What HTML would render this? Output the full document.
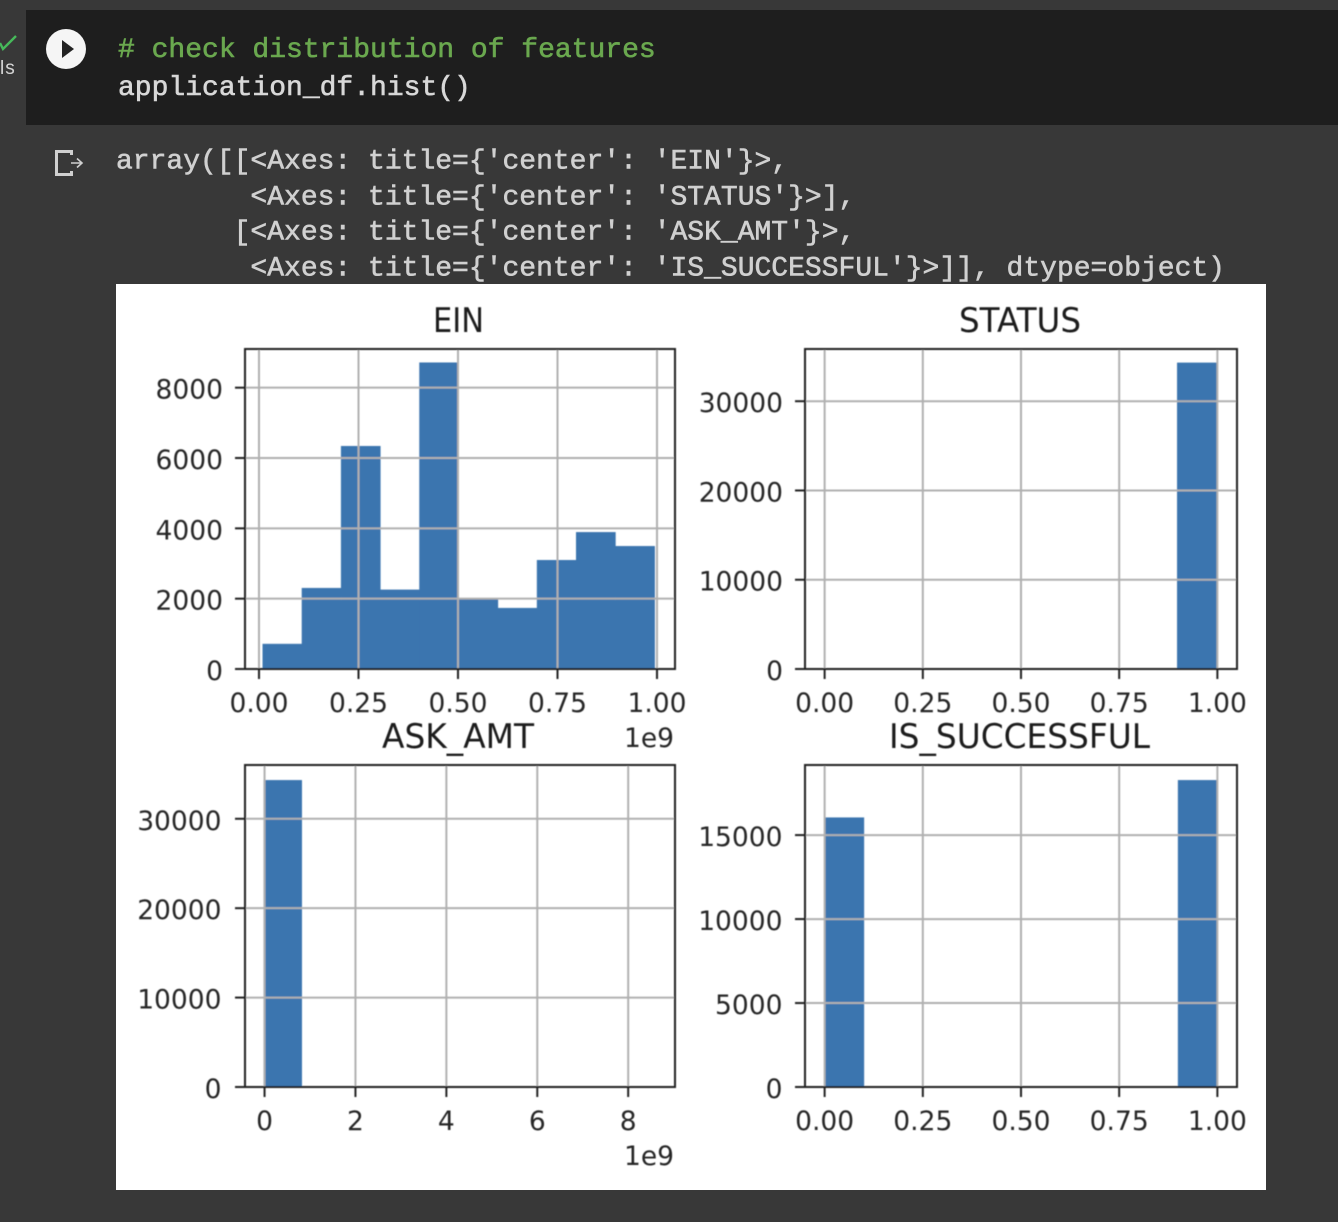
<!DOCTYPE html>
<html lang="en">
<head>
<meta charset="utf-8">
<title>Feature distribution notebook cell</title>
<style>
html,body{margin:0;padding:0;background:#383838;width:1338px;height:1222px;overflow:hidden}
svg{display:block}
.mono{font-family:"Liberation Mono",monospace;font-size:28px;white-space:pre;stroke-width:0.6px}
.tick{font-family:"DejaVu Sans",sans-serif;font-size:26.5px;fill:#262626}
.ttl{font-family:"DejaVu Sans",sans-serif;font-size:34px;fill:#1a1a1a}
</style>
</head>
<body>
<svg id="page" xmlns="http://www.w3.org/2000/svg" width="1338" height="1222" viewBox="0 0 1338 1222">
  <defs>
    <filter id="soft" x="-2%" y="-2%" width="104%" height="104%"><feGaussianBlur stdDeviation="0.55"/></filter>
    <filter id="softer" x="-2%" y="-5%" width="104%" height="110%"><feGaussianBlur stdDeviation="0.35"/></filter>
  </defs>
  <rect x="0" y="0" width="1338" height="1222" fill="#383838"/>
  <rect x="26" y="10" width="1312" height="115" fill="#1e1e1e"/>
  <path d="M0 43 L3 49 L16 36" fill="none" stroke="#46b95a" stroke-width="2.4"/>
  <text x="0" y="74" font-family="Liberation Sans, sans-serif" font-size="19" letter-spacing="1" fill="#d5d5d5">ls</text>
  <g>
    <circle cx="66" cy="49" r="20" fill="#f5f5f5"/>
    <path d="M62 40 L74 49 L62 58 Z" fill="#222"/>
  </g>
  <g filter="url(#softer)">
    <text class="mono" x="118" y="57" fill="#6aa84f" stroke="#6aa84f"># check distribution of features</text>
    <text class="mono" x="118" y="95" fill="#d8d8d8" stroke="#d8d8d8">application_df.hist()</text>
    <text class="mono" x="116" y="168.5" fill="#d0d0d0" stroke="#d0d0d0">array([[&lt;Axes: title={'center': 'EIN'}&gt;,</text>
    <text class="mono" x="116" y="204.5" fill="#d0d0d0" stroke="#d0d0d0">        &lt;Axes: title={'center': 'STATUS'}&gt;],</text>
    <text class="mono" x="116" y="239.5" fill="#d0d0d0" stroke="#d0d0d0">       [&lt;Axes: title={'center': 'ASK_AMT'}&gt;,</text>
    <text class="mono" x="116" y="275.5" fill="#d0d0d0" stroke="#d0d0d0">        &lt;Axes: title={'center': 'IS_SUCCESSFUL'}&gt;]], dtype=object)</text>
  </g>
  <g fill="none" stroke="#d0d0d0">
    <path d="M71.5 155 V151.5 H56.5 V174.5 H71.5 V171" stroke-width="3"/>
    <path d="M71 163 H82 M77 158.5 L82 163 L77 167.5" stroke-width="1.6"/>
  </g>
  <rect x="116" y="284" width="1150" height="906" fill="#ffffff"/>
  <g id="figure" filter="url(#soft)"></g>
</svg>
<script>
// Histogram counts (one per bin)
const einCounts = [709, 2298, 6335, 2250, 8710, 1985, 1730, 3092, 3886, 3489];
const statusCounts = [5, 0, 0, 0, 0, 0, 0, 0, 0, 34294];
const askAmtCounts = [34299, 0, 0, 0, 0, 0, 0, 0, 0, 0];
const successCounts = [16038, 0, 0, 0, 0, 0, 0, 0, 0, 18261];

// Value range covered by the bins of each feature
const einRange = [0.0095, 0.994];
const statusRange = [-0.02, 1];
const askAmtRange = [-0.018, 8.34];
const successRange = [0, 1];

// Tick values and printed labels
const unitXTicks = [0, 0.25, 0.5, 0.75, 1];
const unitXLabels = ['0.00', '0.25', '0.50', '0.75', '1.00'];
const askXTicks = [0, 2, 4, 6, 8];
const askXLabels = ['0', '2', '4', '6', '8'];
const einYTicks = [0, 2000, 4000, 6000, 8000];
const wideYTicks = [0, 10000, 20000, 30000];
const successYTicks = [0, 5000, 10000, 15000];

const svgNS = 'http://www.w3.org/2000/svg';
const figure = document.getElementById('figure');

const panels = [
  {key:'ein', title:'EIN', titleW:51, titleX:458.5, box:[245,349,675,669], xDom:[-0.0352,1.0452], yMax:9100, gap:22,
   counts:einCounts, range:einRange, xt:unitXTicks, xl:unitXLabels, yt:einYTicks, offset:'1e9'},
  {key:'status', title:'STATUS', titleW:122, titleX:1020, box:[805,349,1237,669], xDom:[-0.05,1.05], yMax:35850, gap:22,
   counts:statusCounts, range:statusRange, xt:unitXTicks, xl:unitXLabels, yt:wideYTicks, offset:''},
  {key:'ask-amt', title:'ASK_AMT', titleW:152, titleX:458, box:[245,765,675,1087], xDom:[-0.43,9.03], yMax:36014, gap:23.5,
   counts:askAmtCounts, range:askAmtRange, xt:askXTicks, xl:askXLabels, yt:wideYTicks, offset:'1e9'},
  {key:'is-successful', title:'IS_SUCCESSFUL', titleW:261, titleX:1019.5, box:[805,765,1237,1087], xDom:[-0.05,1.05], yMax:19174, gap:22.5,
   counts:successCounts, range:successRange, xt:unitXTicks, xl:unitXLabels, yt:successYTicks, offset:''}
];

function mk(tag, attrs, parent) {
  const el = document.createElementNS(svgNS, tag);
  for (const k in attrs) el.setAttribute(k, attrs[k]);
  parent.appendChild(el);
  return el;
}

panels.forEach(function (p) {
  const [l, t, r, b] = p.box;
  const xScale = v => l + (v - p.xDom[0]) / (p.xDom[1] - p.xDom[0]) * (r - l);
  const yScale = v => b - v / p.yMax * (b - t);

  const g = mk('g', {}, figure);
  
  

  // bars (thin same-colour stroke hides seams between neighbours)
  const binW = (p.range[1] - p.range[0]) / p.counts.length;
  p.counts.forEach(function (c, i) {
    const x0 = xScale(p.range[0] + i * binW);
    const x1 = xScale(p.range[0] + (i + 1) * binW);
    const bar = mk('rect', {x:x0, y:yScale(c), width:x1 - x0, height:b - yScale(c), fill:'#3b75af', stroke:c > 100 ? '#3b75af' : 'none', 'stroke-width':0.5}, g);
    
    
  });

  // vertical grid, ticks and labels
  p.xt.forEach(function (v, i) {
    const x = xScale(v);
    const grid = mk('line', {x1:x, x2:x, y1:t, y2:b, stroke:'#b0b0b0', 'stroke-width':2}, g);
    
    
    const tick = mk('line', {x1:x, x2:x, y1:b, y2:b + 10, stroke:'#222', 'stroke-width':2}, g);
    
    
    const lab = mk('text', {x:x, y:b + 43, 'text-anchor':'middle', 'class':'tick'}, g);
    
    
    lab.textContent = p.xl[i];
  });

  // horizontal grid, ticks and labels
  p.yt.forEach(function (v) {
    const y = yScale(v);
    const grid = mk('line', {x1:l, x2:r, y1:y, y2:y, stroke:'#b0b0b0', 'stroke-width':2}, g);
    
    
    const tick = mk('line', {x1:l - 10, x2:l, y1:y, y2:y, stroke:'#222', 'stroke-width':2}, g);
    
    
    const lab = mk('text', {x:l - p.gap, y:y + 11, 'text-anchor':'end', 'class':'tick'}, g);
    
    
    lab.textContent = String(v);
  });

  // axes frame
  const frame = mk('rect', {x:l, y:t, width:r - l, height:b - t, fill:'none', stroke:'#222', 'stroke-width':2}, g);
  
  

  // title
  const title = mk('text', {x:p.titleX, y:t - 17, 'text-anchor':'middle', 'class':'ttl', textLength:p.titleW, lengthAdjust:'spacingAndGlyphs'}, g);
  
  
  title.textContent = p.title;

  // scale offset text
  if (p.offset) {
    const off = mk('text', {x:r - 1, y:b + 78, 'text-anchor':'end', 'class':'tick'}, g);
    
    
    off.textContent = p.offset;
  }
});
</script>
</body>
</html>
